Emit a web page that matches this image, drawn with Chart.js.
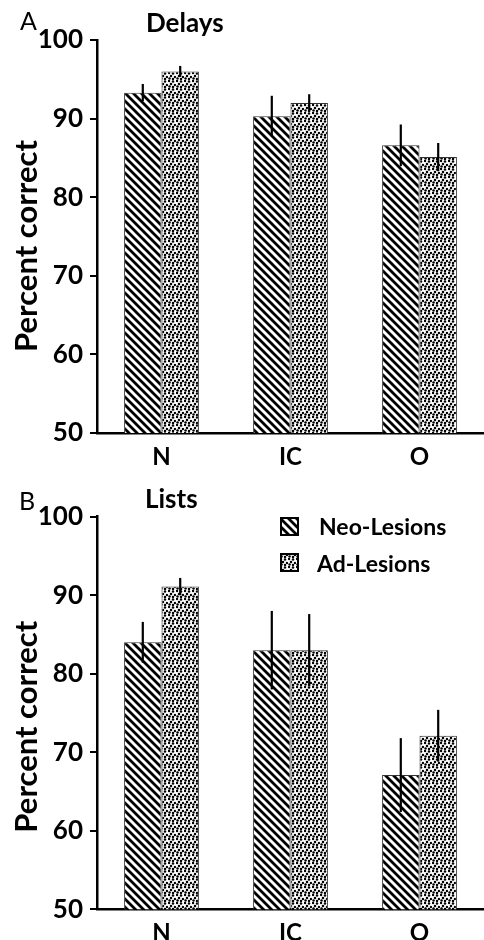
<!DOCTYPE html>
<html><head><meta charset="utf-8">
<script src="https://cdn.jsdelivr.net/npm/chart.js@4.4.0/dist/chart.umd.min.js"></script>
<style>
html,body{margin:0;padding:0;background:#fff;}
.wrap{position:relative;width:484px;height:470px;}
canvas{display:block;}
</style></head><body>
<div class="wrap"><canvas id="cA" width="484" height="470"></canvas></div>
<div class="wrap"><canvas id="cB" width="484" height="470"></canvas></div>
<script>
// ---- data ----
const categories = ['N', 'IC', 'O'];
const seriesNames = ['Neo-Lesions', 'Ad-Lesions'];
const delaysNeo = [93.3, 90.3, 86.6];
const delaysNeoErr = [1.1, 2.6, 2.65];
const delaysAd = [96.0, 92.0, 85.1];
const delaysAdErr = [0.7, 1.1, 1.8];
const listsNeo = [84.0, 83.0, 67.1];
const listsNeoErr = [2.6, 5.0, 4.7];
const listsAd = [91.1, 83.0, 72.1];
const listsAdErr = [1.1, 4.6, 3.3];
const yTicks = [50, 60, 70, 80, 90, 100];
const yTitle = 'Percent correct';

// ---- patterns ----
function stripeTile() {
  const s = 8, c = document.createElement('canvas');
  c.width = s; c.height = s;
  const x = c.getContext('2d');
  x.fillStyle = '#fff'; x.fillRect(0, 0, s, s);
  x.strokeStyle = '#000'; x.lineWidth = 2.8;
  x.beginPath();
  for (let k = -1; k <= 1; k++) { x.moveTo(k * s - 1, -1); x.lineTo(k * s + s + 1, s + 1); }
  x.stroke();
  return c;
}
function dotTile() {
  const s = 8, c = document.createElement('canvas');
  c.width = s; c.height = s;
  const x = c.getContext('2d');
  x.fillStyle = '#fff'; x.fillRect(0, 0, s, s);
  x.fillStyle = '#000';
  [[1, 1], [5, 1.5], [3, 4], [7, 5], [1.5, 6.5], [5, 7]].forEach(([px, py]) => { x.beginPath(); x.arc(px, py, 1.25, 0, Math.PI * 2); x.fill(); });
  return c;
}
const ctxTmp = document.createElement('canvas').getContext('2d');
const stripePattern = ctxTmp.createPattern(stripeTile(), 'repeat');
const dotPattern = ctxTmp.createPattern(dotTile(), 'repeat');

Chart.defaults.font.family = 'Lato';
Chart.defaults.color = '#000';

const errorBars = {
  id: 'errorBars',
  afterDatasetsDraw(chart) {
    const ctx = chart.ctx, y = chart.scales.y;
    chart.data.datasets.forEach((ds, i) => {
      const meta = chart.getDatasetMeta(i);
      meta.data.forEach((bar, j) => {
        const v = ds.data[j], e = ds.errors[j];
        ctx.save();
        ctx.strokeStyle = '#000'; ctx.lineWidth = 2.2;
        ctx.beginPath();
        ctx.moveTo(bar.x, y.getPixelForValue(v + e));
        ctx.lineTo(bar.x, y.getPixelForValue(v - e));
        ctx.stroke();
        ctx.restore();
      });
    });
  }
};

const panelText = {
  id: 'panelText',
  afterDraw(chart, args, o) {
    const ctx = chart.ctx;
    ctx.save();
    ctx.fillStyle = '#000';
    ctx.textAlign = 'left'; ctx.textBaseline = 'alphabetic';
    ctx.font = '25px Lato';
    ctx.fillText(o.letter, o.letterX, o.letterY);
    ctx.font = 'bold 26px Lato';
    ctx.fillText(o.title, o.titleX, o.titleY);
    ctx.save();
    ctx.translate(o.yTitleX, o.yTitleY);
    ctx.rotate(-Math.PI / 2);
    ctx.textAlign = 'center';
    ctx.font = 'bold 31px Lato';
    ctx.fillText(yTitle, 0, 0);
    ctx.restore();
    if (o.legend) {
      const rows = [[48, 65, 319], [84, 102, 317]];
      chart.data.datasets.forEach((ds, i) => {
        const [sy, ty, tx] = rows[i];
        ctx.fillStyle = ds.backgroundColor;
        ctx.fillRect(281, sy, 17, 17);
        ctx.strokeStyle = '#000'; ctx.lineWidth = 2;
        ctx.strokeRect(281, sy, 17, 17);
        ctx.fillStyle = '#000';
        ctx.font = 'bold 23px Lato';
        ctx.fillText(ds.label, tx, ty);
      });
    }
    ctx.restore();
  }
};

function makeChart(id, neo, neoErr, ad, adErr, top, xH, text) {
  return new Chart(document.getElementById(id), {
    type: 'bar',
    data: {
      labels: categories,
      datasets: [
        { label: seriesNames[0], data: neo, errors: neoErr, backgroundColor: stripePattern, borderColor: '#333', borderWidth: 1, categoryPercentage: 0.58, barPercentage: 1.0 },
        { label: seriesNames[1], data: ad, errors: adErr, backgroundColor: dotPattern, borderColor: '#333', borderWidth: 1, categoryPercentage: 0.58, barPercentage: 1.0 }
      ]
    },
    options: {
      responsive: false,
      animation: false,
      devicePixelRatio: 1,
      layout: { padding: { top: top, left: 0, right: -4, bottom: 0 } },
      plugins: { legend: { display: false }, tooltip: { enabled: false }, title: { display: false }, panelText: text },
      scales: {
        x: {
          offset: true,
          grid: { display: false, drawTicks: false },
          border: { display: true, color: '#000', width: 2.5 },
          ticks: { color: '#000', font: { family: 'Lato', weight: 'bold', size: 24 }, padding: 10, maxRotation: 0 },
          afterFit(s) { s.height = xH; }
        },
        y: {
          min: 50, max: 100,
          afterBuildTicks(s) { s.ticks = yTicks.map(v => ({ value: v })); },
          grid: { display: true, drawOnChartArea: false, drawTicks: true, tickLength: 7, color: '#000', lineWidth: 2 },
          border: { display: true, color: '#000', width: 2.5 },
          ticks: { color: '#000', font: { family: 'Lato', weight: 'bold', size: 26 }, padding: 7 },
          afterFit(s) { s.width = 97; }
        }
      }
    },
    plugins: [errorBars, panelText]
  });
}

makeChart('cA', delaysNeo, delaysNeoErr, delaysAd, delaysAdErr, 40, 37,
  { letter: 'A', letterX: 20, letterY: 30, title: 'Delays', titleX: 146, titleY: 31.7, yTitleX: 37, yTitleY: 246, legend: false });
makeChart('cB', listsNeo, listsNeoErr, listsAd, listsAdErr, 46.7, 30.7,
  { letter: 'B', letterX: 19, letterY: 40, title: 'Lists', titleX: 145, titleY: 38.3, yTitleX: 37, yTitleY: 256.7, legend: true });
</script>
</body></html>
